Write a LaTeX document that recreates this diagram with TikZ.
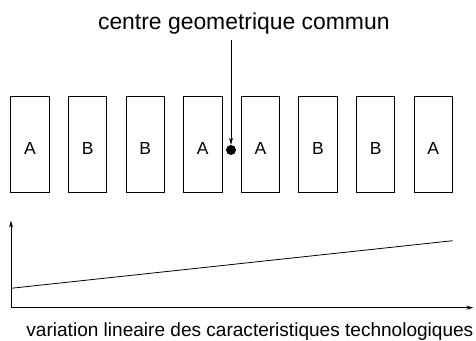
\documentclass[tikz,border=0pt]{standalone}
\usepackage{fontspec}
\setmainfont{Liberation Sans}
\usetikzlibrary{arrows.meta}
\begin{document}
\begin{tikzpicture}[x=1pt,y=1pt,
  cell/.style={draw, line width=0.9pt, minimum width=38.5pt, minimum height=96pt, inner sep=0pt, text height=19.7pt, text depth=0pt, font=\fontsize{17.5}{20}\selectfont},
  lbl/.style={inner sep=0pt, anchor=base}]
\useasboundingbox (0,0) rectangle (476,340);
% rangee de transistors
\node[cell] (c0) at (30,195.3){A};
\node[cell] (c1) at (87.6,195.3){B};
\node[cell] (c2) at (145.2,195.3){B};
\node[cell] (c3) at (202.8,195.3){A};
\node[cell] (c4) at (260.4,195.3){A};
\node[cell] (c5) at (318,195.3){B};
\node[cell] (c6) at (375.6,195.3){B};
\node[cell] (c7) at (433.2,195.3){A};
% centre commun
\node[circle, fill, inner sep=0pt, minimum size=10pt] (ctr) at (231,190){};
\node[lbl, font=\fontsize{22.9}{27}\selectfont] (titre) at (243.8,310.7){centre geometrique commun};
\coordinate (fl) at (231,300);
\draw[line width=0.8pt, -{Stealth[length=7pt,width=4pt]}] (fl) -- (ctr.north);
% gradient lineaire
\coordinate (o) at (11,32.3);
\coordinate (ytop) at (11,119.3);
\coordinate (xend) at (473.3,32.3);
\coordinate (g0) at (11,51.7);
\coordinate (g1) at (452.7,99.3);
\draw[line width=0.8pt, -{Stealth[length=7pt,width=4pt]}] (o) -- (ytop);
\draw[line width=0.8pt, -{Stealth[length=7pt,width=4pt]}] (o) -- (xend);
\draw[line width=0.8pt] (g0) -- (g1);
\node[lbl, font=\fontsize{19.05}{23}\selectfont] (var) at (249.9,4){variation lineaire des caracteristiques technologiques};
\end{tikzpicture}
\end{document}
